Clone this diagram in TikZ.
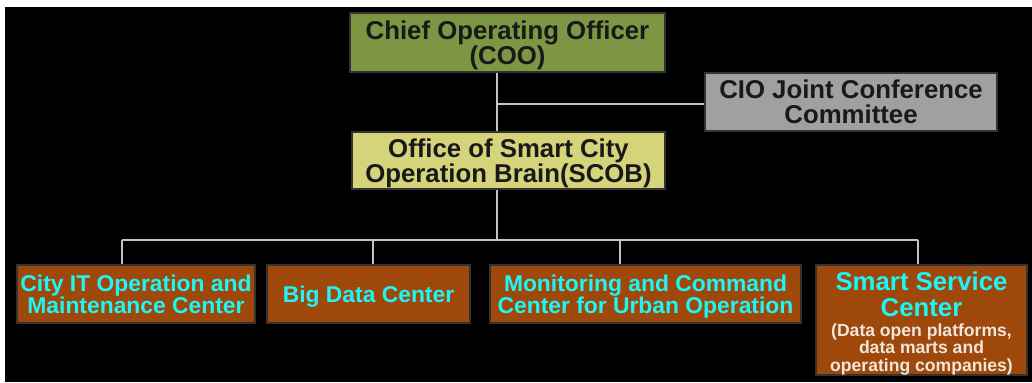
\documentclass[tikz,border=0pt]{standalone}
\usepackage{fontspec}
\setmainfont{Liberation Sans}
\definecolor{cooGreen}{RGB}{125,150,68}
\definecolor{scobYellow}{RGB}{214,212,122}
\definecolor{cioGray}{RGB}{160,160,160}
\definecolor{unitBrown}{RGB}{158,72,12}
\definecolor{unitCyan}{RGB}{30,245,245}
\definecolor{subText}{RGB}{242,230,218}
\definecolor{linkGray}{RGB}{195,195,195}

\begin{document}
\begin{tikzpicture}[x=0.03cm, y=-0.03cm,
  box/.style={draw=black!80, line width=0.9pt, inner sep=0pt, align=center},
  head/.style={box, text=black!90, text depth=-2pt, font=\bfseries\fontsize{22}{21.5}\selectfont},
  unit/.style={box, fill=unitBrown, text=unitCyan, text depth=0pt, minimum height=1.74cm, font=\bfseries\fontsize{19.5}{18.5}\selectfont},
  link/.style={draw=linkGray, line width=1.6pt}]
\useasboundingbox (0,0) rectangle (1032,382);
\fill[black] (5,7) rectangle (1032,382);

% top of the chart
\node[head, fill=cooGreen, minimum width=9.45cm, minimum height=1.77cm] (coo) at (507.5,42.5) {Chief Operating Officer\\(COO)};
\node[head, fill=cioGray, minimum width=8.76cm, minimum height=1.74cm] (cio) at (851,102) {CIO Joint Conference\\Committee};
\node[head, fill=scobYellow, minimum width=9.39cm, minimum height=1.71cm] (scob) at (508.5,160.5) {Office of Smart City\\Operation Brain(SCOB)};

% the four centers
\node[unit, text depth=, text height=22pt, minimum width=6.33cm, minimum height=3.3cm, text width=6.2cm, align=flush center] (ssc) at (921.5,320) {\fontsize{22}{21.5}\selectfont Smart Service\\Center\par\vspace{3pt}
  \fontsize{15}{14.7}\selectfont\color{subText}(Data open platforms,\\data marts and\\operating companies)\par};
\node[unit, minimum width=7.14cm] (itc) at (136,294) {City IT Operation and\\Maintenance Center};
\node[unit, minimum width=6.09cm] (bdc) at (368.5,294) {Big Data Center};
\node[unit, minimum width=9.33cm] (mcc) at (645.5,294) {Monitoring and Command\\Center for Urban Operation};

% connectors
\coordinate (trunk) at (497,104); \coordinate (bus) at (497,240);
\coordinate (d1) at (122,240); \coordinate (d2) at (373,240); \coordinate (d3) at (620,240); \coordinate (d4) at (918,240);
\draw[link] (coo.south -| trunk) -- (scob.north -| trunk);
\draw[link] (trunk) -- (trunk -| cio.west);
\draw[link] (scob.south -| bus) -- (bus);
\draw[link] (d1) -- (d4);
\foreach \d/\u in {d1/itc, d2/bdc, d3/mcc, d4/ssc} \draw[link] (\d) -- (\d |- \u.north);
\end{tikzpicture}
\end{document}
